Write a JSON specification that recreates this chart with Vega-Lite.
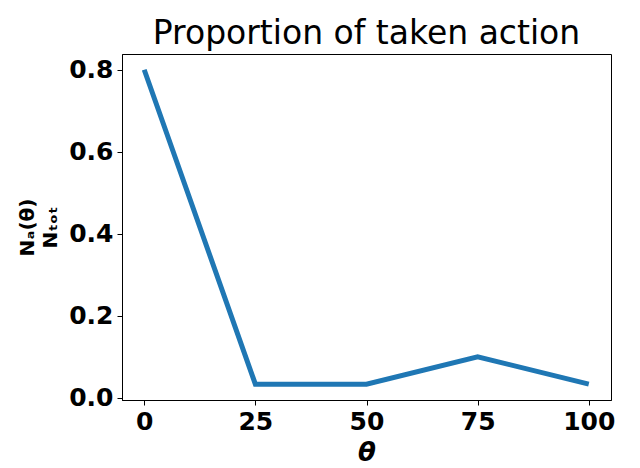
{
  "$schema": "https://vega.github.io/schema/vega-lite/v6.json",
  "width": 489,
  "height": 346,
  "autosize": "none",
  "padding": {"left": 122, "top": 54, "right": 29, "bottom": 68},
  "background": "white",
  "title": {"text": "Proportion of taken action", "fontSize": 33, "font": "DejaVu Sans", "fontWeight": "normal", "color": "black", "offset": 3},
  "data": {"values": [
    {"theta": 0, "p": 0.8},
    {"theta": 25, "p": 0.0333},
    {"theta": 50, "p": 0.0333},
    {"theta": 75, "p": 0.1},
    {"theta": 100, "p": 0.0333}
  ]},
  "mark": {"type": "line", "color": "#1f77b4", "strokeWidth": 5},
  "encoding": {
    "x": {"field": "theta", "type": "quantitative",
      "scale": {"domain": [-5, 105], "nice": false, "zero": false},
      "axis": {"values": [0, 25, 50, 75, 100], "title": "θ", "titleFontStyle": "italic", "titleFontSize": 26, "titlePadding": 5}},
    "y": {"field": "p", "type": "quantitative",
      "scale": {"domain": [-0.0053, 0.8383], "nice": false, "zero": false},
      "axis": {"values": [0, 0.2, 0.4, 0.6, 0.8], "format": ".1f", "title": ["Nₐ(θ)", "Nₜₒₜ"], "titleFontSize": 20, "titleLineHeight": 23, "titlePadding": 8}}
  },
  "config": {
    "view": {"stroke": "black", "strokeWidth": 1},
    "axis": {
      "grid": false,
      "domainColor": "black",
      "tickColor": "black",
      "tickSize": 5,
      "labelFont": "DejaVu Sans",
      "labelFontWeight": "bold",
      "labelFontSize": 25,
      "labelColor": "black",
      "labelPadding": 4,
      "titleFont": "DejaVu Sans",
      "titleFontWeight": "bold",
      "titleColor": "black"
    }
  }
}
